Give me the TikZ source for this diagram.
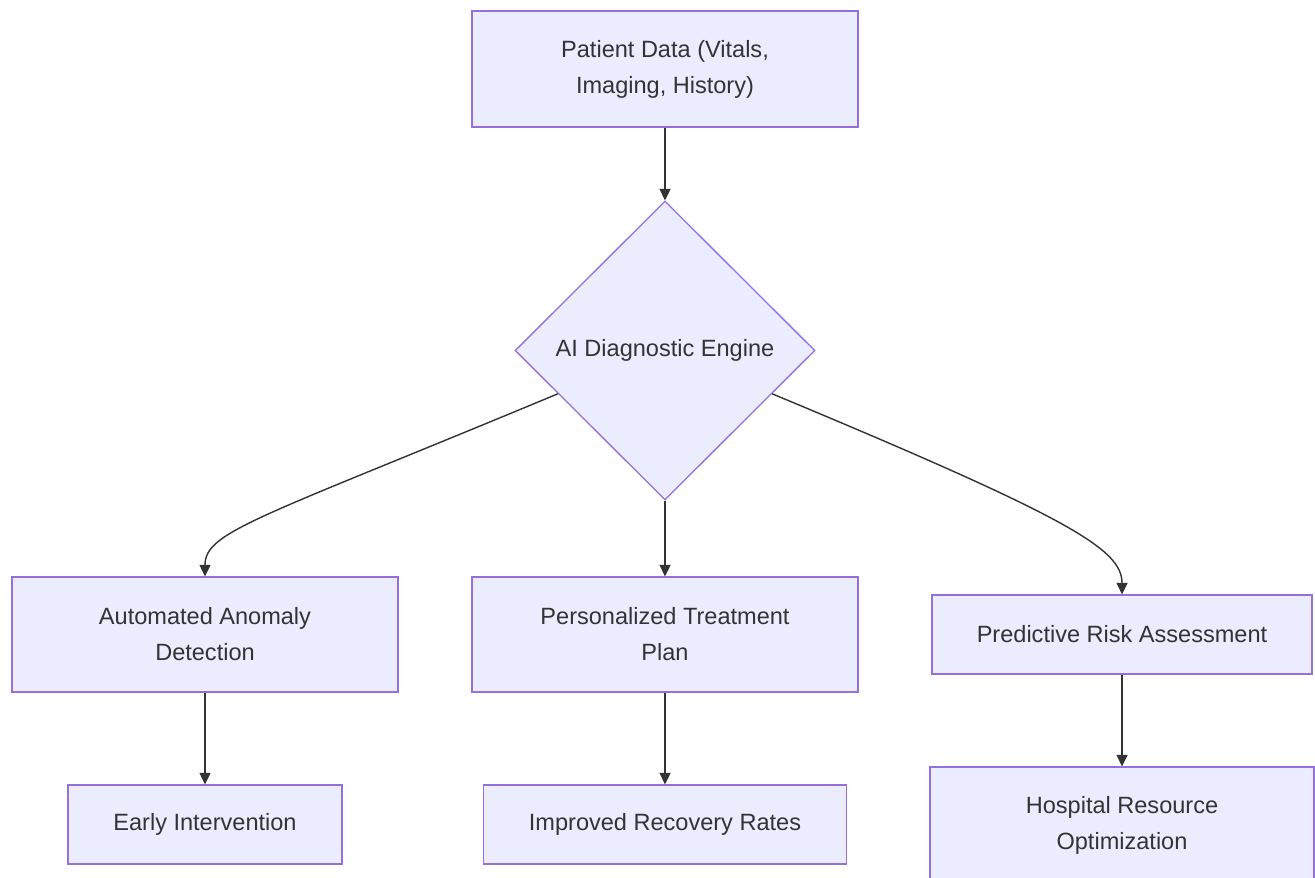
\documentclass[tikz,border=0pt]{standalone}
\usepackage{fontspec}
\setmainfont{Liberation Sans}
\usepackage{tikz}
\usetikzlibrary{shapes.geometric,arrows.meta}
\definecolor{boxfill}{HTML}{ECECFF}
\definecolor{boxline}{HTML}{9370DB}
\definecolor{ink}{HTML}{333333}
\tikzset{
  box/.style={draw=boxline, fill=boxfill, line width=0.75pt, rectangle, align=center, text=ink,
    inner sep=0pt, font=\fontsize{13.4}{20.5}\selectfont},
  decision/.style={draw=boxline, fill=boxfill, line width=0.75pt, diamond, aspect=1, inner sep=0pt,
    text=ink, minimum width=6cm, minimum height=5.98cm, font=\fontsize{13.4}{20.5}\selectfont},
  link/.style={draw=ink, line width=0.8pt, -{Triangle[length=2.3mm,width=2.2mm]}}
}
\begin{document}
\begin{tikzpicture}[x=0.02cm, y=-0.02cm]
        \useasboundingbox (0,0) rectangle (1315,878);
        \node[box, minimum width=7.72cm, minimum height=2.32cm] (patient) at (665,69) {Patient Data (Vitals,\\Imaging, History)};
        \node[decision] (engine) at (665,350.5) {AI Diagnostic Engine};
        \node[box, minimum width=7.72cm, minimum height=2.3cm] (anomaly) at (205,634.5) {Automated Anomaly\\Detection};
        \node[box, minimum width=7.72cm, minimum height=2.3cm] (treatment) at (665,634.5) {Personalized Treatment\\Plan};
        \node[box, minimum width=7.6cm, minimum height=1.58cm] (risk) at (1122,634.5) {Predictive Risk Assessment};
        \node[box, minimum width=5.48cm, minimum height=1.58cm] (intervention) at (205,824.5) {Early Intervention};
        \node[box, minimum width=7.26cm, minimum height=1.58cm] (recovery) at (665,824.5) {Improved Recovery Rates};
        \node[box, minimum width=7.68cm, minimum height=2.32cm] (resource) at (1122,825) {Hospital Resource\\Optimization};


        \draw[link] (patient) -- (engine);
        \draw[link] (engine.202) .. controls +(-300,125) and +(0,-45) .. (anomaly.north);
        \draw[link] (engine) -- (treatment);
        \draw[link] (engine.-22) .. controls +(300,125) and +(0,-45) .. (risk.north);
        \draw[link] (anomaly) -- (intervention);
        \draw[link] (treatment) -- (recovery);
        \draw[link] (risk) -- (resource);
    \end{tikzpicture}
\end{document}
